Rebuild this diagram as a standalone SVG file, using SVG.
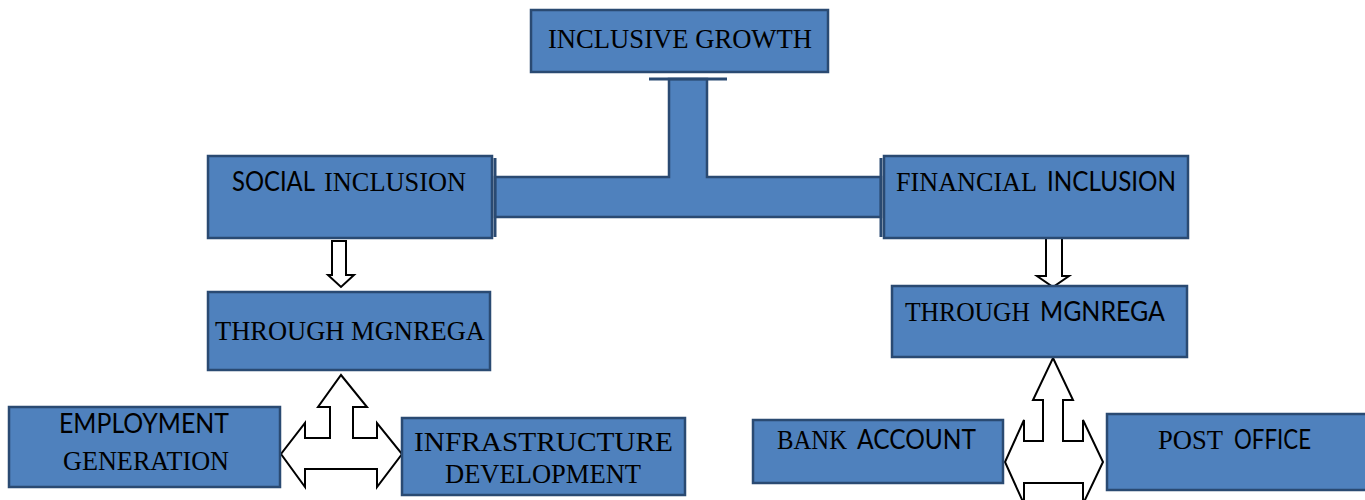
<svg xmlns="http://www.w3.org/2000/svg" width="1365" height="500" viewBox="0 0 1365 500">
<style>
.box{fill:#4F81BD;stroke:#2A4A72;stroke-width:2.5}
.s{font-family:"Liberation Serif",serif;font-size:27.5px;fill:#000}
.n{font-family:"Lato","Liberation Sans",sans-serif;font-size:26px;fill:#000}
.arr{fill:#fff;stroke:#000;stroke-width:2;stroke-linejoin:miter}
.cap{stroke:#2A4A72;stroke-width:3;fill:none}
</style>
<rect width="1365" height="500" fill="#fff"/>
<g id="connectors">
<path class="box" d="M669,79 L707,79 L707,177 L881,177 L881,217 L495,217 L495,177 L669,177 Z"/>
<line class="cap" x1="649" y1="79" x2="727" y2="79"/>
<line class="cap" x1="495" y1="158" x2="495" y2="237"/>
<line class="cap" x1="881" y1="158" x2="881" y2="237"/>
<polygon class="arr" points="332,241 346,241 346,275 354,275 341,287 328,275 332,275"/>
<polygon class="arr" points="1046,238 1062,238 1062,276 1069,276 1053,287 1037,276 1046,276"/>
<polygon class="arr" points="341,375 367,407 353,407 353,438 377,438 377,423 402,454 377,487 377,469 305,469 305,487 281,454 305,423 305,438 330,438 330,407 318,407"/>
<polygon class="arr" points="1053,358 1073,400 1063,400 1063,441 1083,441 1083,420 1103,462 1083,504 1083,483 1024,483 1024,504 1005,462 1024,420 1024,441 1043,441 1043,400 1033,400"/>
</g>
<g id="inclusive-growth">
<rect class="box" x="531" y="10" width="297" height="62"/>
<text class="s" x="548" y="48" textLength="264" lengthAdjust="spacingAndGlyphs">INCLUSIVE GROWTH</text>
</g>
<g id="social-inclusion">
<rect class="box" x="208" y="156" width="284" height="82"/>
<text class="n" x="232" y="191" textLength="83" lengthAdjust="spacingAndGlyphs">SOCIAL</text>
<text class="s" x="324" y="191" textLength="142" lengthAdjust="spacingAndGlyphs">INCLUSION</text>
</g>
<g id="financial-inclusion">
<rect class="box" x="884" y="156" width="304" height="82"/>
<text class="s" x="896" y="191" textLength="141" lengthAdjust="spacingAndGlyphs">FINANCIAL</text>
<text class="n" x="1047" y="191" textLength="129" lengthAdjust="spacingAndGlyphs">INCLUSION</text>
</g>
<g id="through-mgnrega-left">
<rect class="box" x="208" y="292" width="282" height="78"/>
<text class="s" x="215" y="340" textLength="270" lengthAdjust="spacingAndGlyphs">THROUGH MGNREGA</text>
</g>
<g id="through-mgnrega-right">
<rect class="box" x="892" y="286" width="295" height="71"/>
<text class="s" x="905" y="321" textLength="125" lengthAdjust="spacingAndGlyphs">THROUGH</text>
<text class="n" x="1040" y="321" textLength="125" lengthAdjust="spacingAndGlyphs">MGNREGA</text>
</g>
<g id="employment-generation">
<rect class="box" x="9" y="407" width="271" height="80"/>
<text class="n" x="59" y="433" textLength="170" lengthAdjust="spacingAndGlyphs">EMPLOYMENT</text>
<text class="s" x="63" y="470" textLength="166" lengthAdjust="spacingAndGlyphs">GENERATION</text>
</g>
<g id="infrastructure-development">
<rect class="box" x="402" y="418" width="283" height="77"/>
<text class="s" x="414" y="451" textLength="259" lengthAdjust="spacingAndGlyphs">INFRASTRUCTURE</text>
<text class="s" x="445" y="483" textLength="196" lengthAdjust="spacingAndGlyphs">DEVELOPMENT</text>
</g>
<g id="bank-account">
<rect class="box" x="753" y="420" width="250" height="63"/>
<text class="s" x="777" y="449" textLength="70" lengthAdjust="spacingAndGlyphs">BANK</text>
<text class="n" x="857" y="449" textLength="119" lengthAdjust="spacingAndGlyphs">ACCOUNT</text>
</g>
<g id="post-office">
<rect class="box" x="1107" y="414" width="260" height="76"/>
<text class="s" x="1158" y="449" textLength="65" lengthAdjust="spacingAndGlyphs">POST</text>
<text class="n" x="1234" y="449" textLength="77" lengthAdjust="spacingAndGlyphs">OFFICE</text>
</g>
</svg>
